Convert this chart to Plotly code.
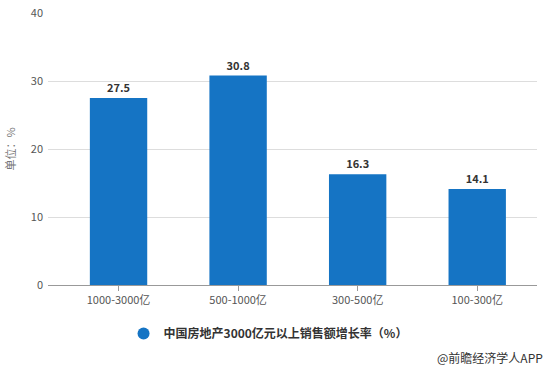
import plotly.graph_objects as go

categories = ["1000-3000亿", "500-1000亿", "300-500亿", "100-300亿"]
values = [27.5, 30.8, 16.3, 14.1]
series_name = "中国房地产3000亿元以上销售额增长率（%）"
y_ticks = [0, 10, 20, 30, 40]

font_family = "Noto Sans CJK SC, Microsoft YaHei, sans-serif"

fig = go.Figure()
fig.add_trace(go.Bar(
    x=list(range(len(categories))), y=values, name=series_name,
    marker=dict(color="#1574C4", line=dict(width=0)),
    width=0.48,
    text=[f"{v:.1f}" for v in values], textposition="outside",
    textfont=dict(size=11, color="#333333", family=font_family, weight="bold"),
    cliponaxis=False,
    showlegend=False,
))
fig.add_trace(go.Scatter(x=[None], y=[None], mode="markers", name=series_name,
                         marker=dict(color="#1574C4", size=12, symbol="circle")))

fig.update_layout(
    width=551, height=367,
    margin=dict(l=48, r=14, t=13, b=82, autoexpand=False),
    paper_bgcolor="white", plot_bgcolor="white",
    font=dict(family=font_family, size=11, color="#555555"),
    showlegend=True,
    legend=dict(orientation="h", x=0.45, xanchor="center", y=-0.125, yanchor="top",
                font=dict(size=12, color="#333333", family=font_family, weight="bold"),
                itemsizing="constant"),
    xaxis=dict(range=[-0.59, 3.5], tickmode="array",
               tickvals=list(range(len(categories))), ticktext=categories,
               showgrid=False, showline=False, zeroline=False,
               ticks="outside", ticklen=5, tickcolor="#999999",
               tickfont=dict(size=11, color="#555555")),
    yaxis=dict(range=[0, 40], tickvals=y_ticks, showgrid=True, gridcolor="#DDDDDD",
               zeroline=True, zerolinecolor="#999999", zerolinewidth=1,
               showline=False, ticks="", ticklabelstandoff=4,
               tickfont=dict(size=11, color="#555555"),
               title=dict(text="单位：%", font=dict(size=11, color="#777777"), standoff=12)),
    bargap=0.5,
)
fig.add_annotation(text="@前瞻经济学人APP", xref="paper", yref="paper", x=1.0, y=-0.265,
                   xanchor="right", yanchor="middle", showarrow=False, xshift=8,
                   font=dict(size=12, color="#333333", family=font_family))
fig.write_html("out.html", config={"displayModeBar": False},
               post_script="document.body.style.margin='0';document.body.style.overflow='hidden';")
